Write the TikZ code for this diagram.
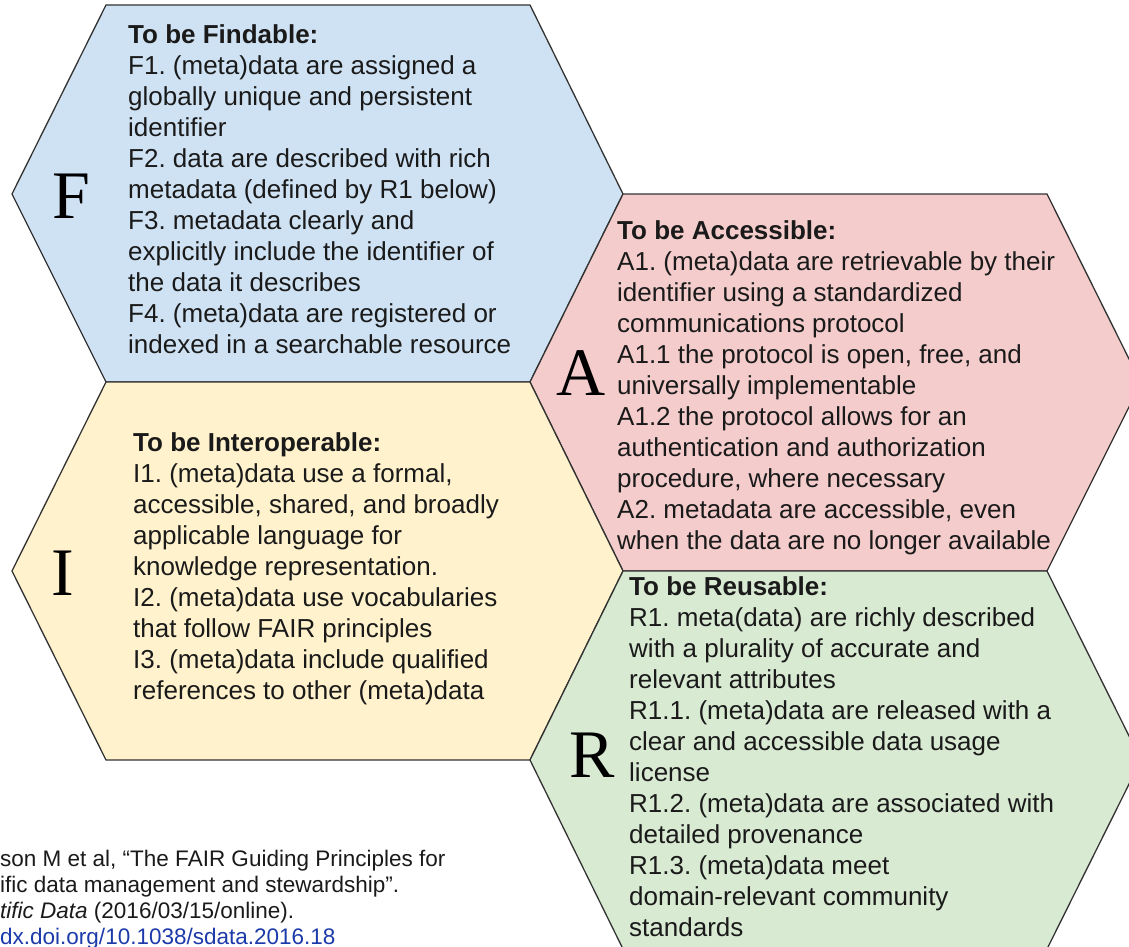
\documentclass[tikz,border=0pt]{standalone}
\usepackage{fontspec}
\setmainfont{Liberation Sans}
\newfontfamily\bigserif{Liberation Serif}
\definecolor{fblue}{HTML}{CFE2F3}
\definecolor{apink}{HTML}{F4CCCC}
\definecolor{iyellow}{HTML}{FFF2CC}
\definecolor{rgreen}{HTML}{D9EAD3}
\definecolor{edgegray}{HTML}{333333}
\definecolor{textblack}{HTML}{1A1A1A}
\definecolor{linkblue}{HTML}{1C3AA9}
\newcommand{\lines}[1]{\begin{tabular}[t]{@{}l@{}}#1\end{tabular}}
\frenchspacing
\begin{document}
\frenchspacing
\begin{tikzpicture}[x=1pt,y=-1pt,
  hexline/.style={draw=edgegray, line width=1.3pt, line join=miter},
  body/.style={anchor=base west, inner sep=0pt, text=textblack, font=\frenchspacing\fontsize{26}{31}\selectfont},
  bigletter/.style={anchor=base, inner sep=0pt, text=black, font=\bigserif\fontsize{68}{68}\selectfont},
  citation/.style={anchor=base west, inner sep=0pt, text=textblack, font=\frenchspacing\fontsize{22.5}{26}\selectfont}]
\useasboundingbox (0,0) rectangle (1129,947);
\clip (0,0) rectangle (1129,947);
% hexagons
\filldraw[hexline, fill=fblue]    (106,5)   -- (530,5)   -- (623,194) -- (530,382) -- (106,382) -- (12,194)  -- cycle;
\filldraw[hexline, fill=apink]    (623,194) -- (1047,194) -- (1141,383) -- (1047,571) -- (623,571) -- (530,382) -- cycle;
\filldraw[hexline, fill=iyellow]  (106,382) -- (530,382) -- (623,571) -- (530,760) -- (106,760) -- (12,571)  -- cycle;
\filldraw[hexline, fill=rgreen]   (623,571) -- (1047,571) -- (1141,760) -- (1047,949) -- (623,949) -- (530,760) -- cycle;
% big letters
\node[bigletter] (bigF) at (71,218) {F};
\node[bigletter] (bigA) at (581,395) {A};
\node[bigletter] (bigI) at (63,595) {I};
\node[bigletter] (bigR) at (592,777) {R};
% texts
\node[body] (textF) at (128,44) {\lines{\textbf{To be Findable:}\\
F1. (meta)data are assigned a\\
globally unique and persistent\\
identifier\\
F2. data are described with rich\\
metadata (defined by R1 below)\\
F3. metadata clearly and\\
explicitly include the identifier of\\
the data it describes\\
F4. (meta)data are registered or\\
indexed in a searchable resource}};
\node[body] (textA) at (617,239) {\lines{\textbf{To be Accessible:}\\
A1. (meta)data are retrievable by their\\
identifier using a standardized\\
communications protocol\\
A1.1 the protocol is open, free, and\\
universally implementable\\
A1.2 the protocol allows for an\\
authentication and authorization\\
procedure, where necessary\\
A2. metadata are accessible, even\\
when the data are no longer available}};
\node[body] (textI) at (133,451) {\lines{\textbf{To be Interoperable:}\\
I1. (meta)data use a formal,\\
accessible, shared, and broadly\\
applicable language for\\
knowledge representation.\\
I2. (meta)data use vocabularies\\
that follow FAIR principles\\
I3. (meta)data include qualified\\
references to other (meta)data}};
\node[body] (textR) at (629,595) {\lines{\textbf{To be Reusable:}\\
R1. meta(data) are richly described\\
with a plurality of accurate and\\
relevant attributes\\
R1.1. (meta)data are released with a\\
clear and accessible data usage\\
license\\
R1.2. (meta)data are associated with\\
detailed provenance\\
R1.3. (meta)data meet\\
domain-relevant community\\
standards}};
% citation
\node[citation] (cite) at (0,866) {\lines{son M et al, “The FAIR Guiding Principles for\\
ific data management and stewardship”.\\
\textit{tific Data} (2016/03/15/online).\\
\textcolor{linkblue}{dx.doi.org/10.1038/sdata.2016.18}}};
\end{tikzpicture}
\end{document}
